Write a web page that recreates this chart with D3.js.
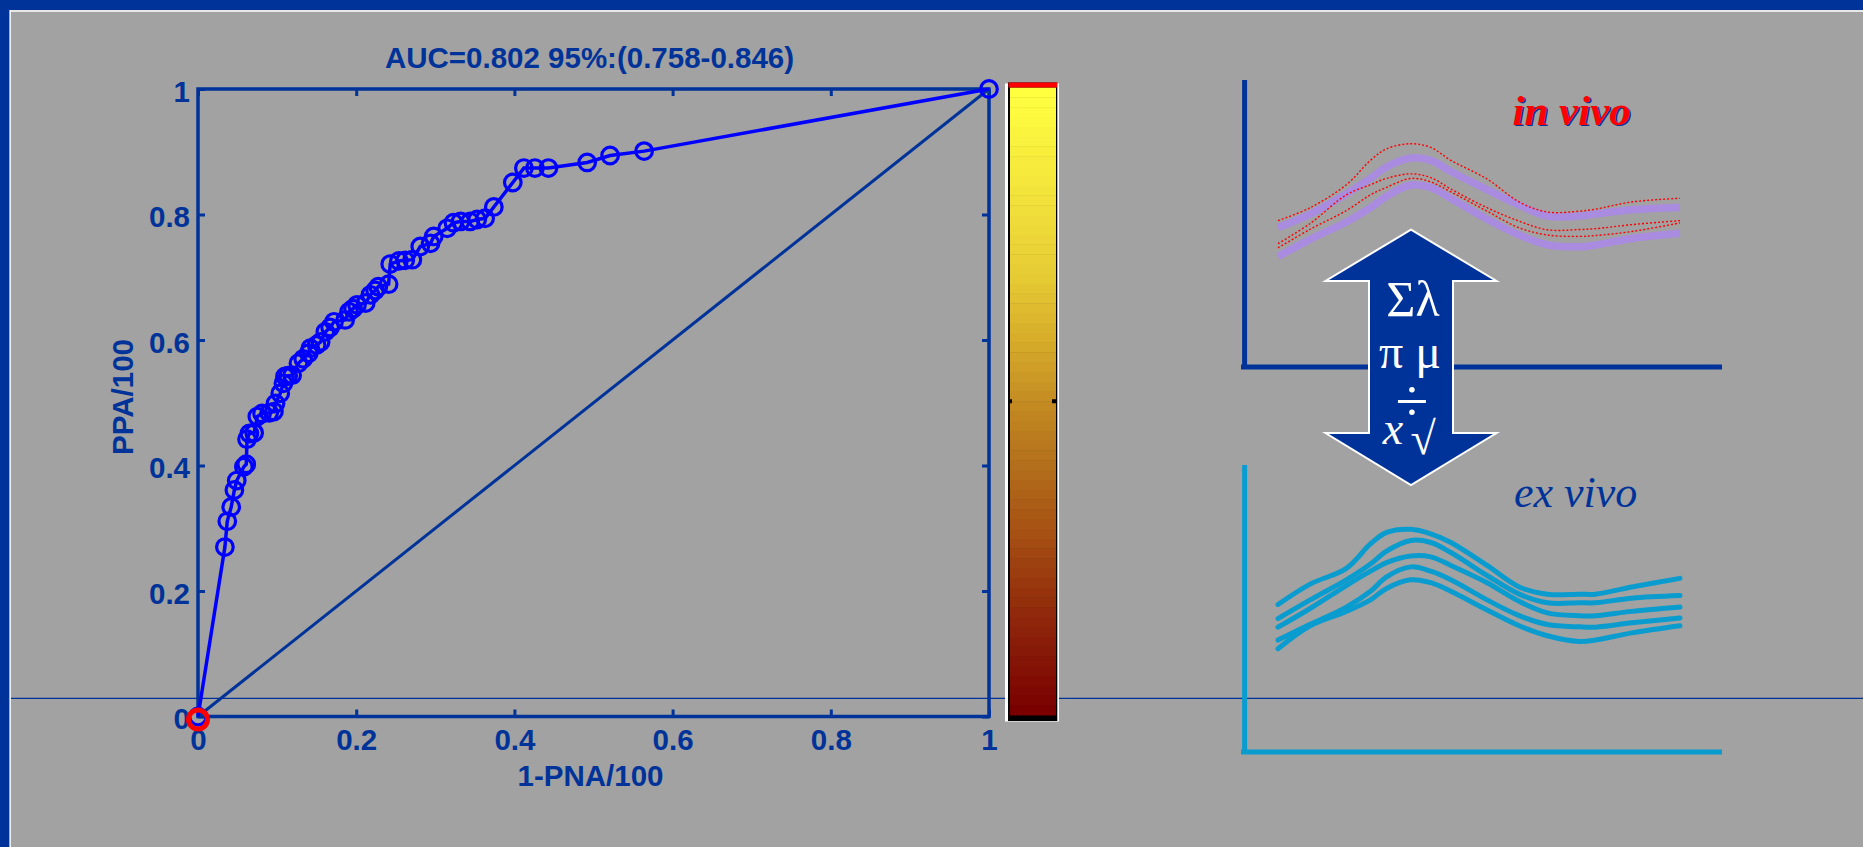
<!DOCTYPE html>
<meta charset="utf-8">

<style>
    body {
        margin: 0;
        background: #a2a2a2;
        overflow: hidden;
    }
    text {
        font-family: "Liberation Sans", Arial, sans-serif;
        font-weight: bold;
        fill: #003399;
    }
    .axis text {
        font-size: 29.5px;
    }
    .axis line {
        stroke: #003399;
        stroke-width: 3;
    }
    .axis path {
        display: none;
    }
    .serif {
        font-family: "Liberation Serif", "Times New Roman", serif;
        font-weight: normal;
    }
</style>

<body>
<script src="https://cdn.jsdelivr.net/npm/d3@7"></script>
<script>

    // ROC operating points
    var fprValues = [0, 0.034, 0.037, 0.042, 0.046, 0.049, 0.058, 0.061, 0.062, 0.065, 0.071,
        0.075, 0.081, 0.090, 0.096, 0.098, 0.104, 0.108, 0.110, 0.114, 0.119, 0.127, 0.133, 0.140,
        0.142, 0.150, 0.155, 0.161, 0.167, 0.172, 0.186, 0.191, 0.196, 0.201, 0.212, 0.218, 0.224,
        0.228, 0.241, 0.243, 0.254, 0.262, 0.271, 0.281, 0.294, 0.298, 0.315, 0.323, 0.332, 0.344,
        0.353, 0.363, 0.374, 0.398, 0.412, 0.426, 0.443, 0.492, 0.521, 0.564, 1];
    var tprValues = [0, 0.270, 0.311, 0.334, 0.361, 0.376, 0.398, 0.402, 0.442, 0.451, 0.452,
        0.478, 0.483, 0.484, 0.486, 0.499, 0.515, 0.531, 0.542, 0.543, 0.544, 0.563, 0.570, 0.579,
        0.587, 0.592, 0.597, 0.613, 0.620, 0.629, 0.632, 0.645, 0.650, 0.656, 0.659, 0.672, 0.679,
        0.685, 0.689, 0.721, 0.726, 0.727, 0.728, 0.749, 0.754, 0.765, 0.778, 0.787, 0.789, 0.789,
        0.792, 0.794, 0.812, 0.851, 0.874, 0.874, 0.874, 0.883, 0.894, 0.901, 1];

    var xTicks = [0, 0.2, 0.4, 0.6, 0.8, 1];
    var xTickLabels = ["0", "0.2", "0.4", "0.6", "0.8", "1"];
    var yTicks = [0, 0.2, 0.4, 0.6, 0.8, 1];
    var yTickLabels = ["0", "0.2", "0.4", "0.6", "0.8", "1"];
    var colorbarTicks = [0.5];

    var titleText = "AUC=0.802 95%:(0.758-0.846)";
    var xLabel = "1-PNA/100";
    var yLabel = "PPA/100";

    // spectra in the sketch on the right (x in % of width, y in % of panel height)
    var specX = [0, 8, 17, 23, 27, 33, 38, 43, 52, 60, 67, 75, 79, 88, 100];
    var inVivoBands = [
        [48.6, 53.3, 60.3, 65.7, 69.7, 72.8, 72.0, 68.1, 61.8, 56.4, 52.6, 52.6, 53.3, 54.8, 55.6],
        [38.5, 44.5, 50.5, 55.5, 59.5, 63.4, 62.6, 58.7, 51.5, 46.0, 42.6, 41.9, 42.5, 44.8, 46.6]
    ];
    var inVivoSamples = [
        [51.0, 55.5, 63.5, 72.0, 76.0, 77.8, 76.5, 72.0, 65.5, 57.5, 54.0, 54.3, 55.0, 57.5, 58.8],
        [43.0, 50.0, 60.0, 63.5, 65.7, 67.3, 66.0, 62.0, 55.5, 50.8, 47.8, 47.9, 48.2, 49.6, 51.0],
        [41.5, 48.0, 54.5, 60.0, 62.6, 65.7, 64.5, 61.0, 54.3, 48.5, 46.0, 45.5, 45.8, 47.2, 50.2]
    ];
    var exVivoSamples = [
        [51.4, 58.5, 64.0, 72.5, 76.5, 77.6, 76.0, 73.0, 65.0, 57.5, 55.0, 55.0, 55.0, 57.5, 60.5],
        [46.5, 53.0, 60.0, 65.5, 70.0, 73.7, 73.0, 69.5, 61.5, 55.0, 52.0, 52.0, 52.0, 53.6, 54.5],
        [43.5, 50.0, 58.0, 63.0, 66.0, 68.3, 68.0, 65.0, 59.0, 52.5, 48.5, 47.5, 47.5, 49.0, 50.5],
        [39.0, 44.5, 50.5, 56.0, 61.0, 64.5, 63.0, 60.0, 53.0, 47.5, 44.4, 43.6, 43.5, 45.0, 46.7],
        [36.0, 44.0, 49.0, 53.0, 57.0, 60.0, 59.0, 56.0, 49.5, 44.0, 40.5, 38.5, 39.0, 41.5, 44.0]
    ];

    var width = 1863,
        height = 847;
    var blue = "#003399";

    var svg = d3.select("body").append("svg")
        .attr("width", width)
        .attr("height", height);

    // slide background and frame
    svg.append("rect").attr("width", width).attr("height", height).attr("fill", "#a2a2a2");
    svg.append("rect").attr("width", width).attr("height", 10).attr("fill", blue);
    svg.append("rect").attr("width", 9.5).attr("height", height).attr("fill", blue);
    svg.append("line").attr("x1", 10).attr("x2", width).attr("y1", 11).attr("y2", 11)
        .attr("stroke", "#fff").attr("stroke-width", 1.5);
    svg.append("line").attr("x1", 10.2).attr("x2", 10.2).attr("y1", 10).attr("y2", height)
        .attr("stroke", "#fff").attr("stroke-width", 1.3);
    svg.append("line").attr("x1", 11).attr("x2", width).attr("y1", 698.3).attr("y2", 698.3)
        .attr("stroke", blue).attr("stroke-width", 1.3);

    // ROC plot
    var x = d3.scaleLinear().domain([0, 1]).range([198, 989]),
        y = d3.scaleLinear().domain([0, 1]).range([716.5, 89]);

    svg.append("g").attr("class", "axis")
        .attr("transform", "translate(0," + y(0) + ")")
        .call(d3.axisBottom(x).tickValues(xTicks).tickSizeInner(-7).tickSizeOuter(0).tickPadding(13)
            .tickFormat(function(d, i) { return xTickLabels[i]; }));
    svg.append("g").attr("class", "axis")
        .attr("transform", "translate(" + x(0) + ",0)")
        .call(d3.axisLeft(y).tickValues(yTicks).tickSizeInner(-7).tickSizeOuter(0).tickPadding(8)
            .tickFormat(function(d, i) { return yTickLabels[i]; }))
        .selectAll("text").attr("dy", "0.41em");
    svg.append("g").attr("class", "axis")
        .attr("transform", "translate(0," + y(1) + ")")
        .call(d3.axisTop(x).tickValues(xTicks).tickSizeInner(-7).tickSizeOuter(0).tickFormat(""));
    svg.append("g").attr("class", "axis")
        .attr("transform", "translate(" + x(1) + ",0)")
        .call(d3.axisRight(y).tickValues(yTicks).tickSizeInner(-7).tickSizeOuter(0).tickFormat(""));

    svg.append("rect")
        .attr("x", x(0)).attr("y", y(1))
        .attr("width", x(1) - x(0)).attr("height", y(0) - y(1))
        .attr("fill", "none").attr("stroke", blue).attr("stroke-width", 3.5);

    // chance diagonal
    svg.append("line")
        .attr("x1", x(0)).attr("y1", y(0)).attr("x2", x(1)).attr("y2", y(1))
        .attr("stroke", blue).attr("stroke-width", 3);

    var points = fprValues.map(function(d, i) { return {fpr: d, tpr: tprValues[i]}; });

    var line = d3.line()
        .x(function(d) { return x(d.fpr); })
        .y(function(d) { return y(d.tpr); });

    svg.append("path")
        .datum(points)
        .attr("d", line)
        .attr("fill", "none")
        .attr("stroke", "#0000ff")
        .attr("stroke-width", 3.5);

    svg.append("g").selectAll("circle")
        .data(points)
        .enter().append("circle")
        .attr("cx", function(d) { return x(d.fpr); })
        .attr("cy", function(d) { return y(d.tpr); })
        .attr("r", 8.3)
        .attr("fill", "none")
        .attr("stroke", "#0000ff")
        .attr("stroke-width", 3.2);

    // highlighted starting point
    svg.append("circle")
        .attr("cx", x(points[0].fpr)).attr("cy", y(points[0].tpr) + 3)
        .attr("r", 9.5)
        .attr("fill", "none").attr("stroke", "#ff0000").attr("stroke-width", 5);

    svg.append("text")
        .attr("x", (x(0) + x(1)) / 2 - 4).attr("y", 68)
        .attr("text-anchor", "middle")
        .style("font-size", "29.5px")
        .text(titleText);

    svg.append("text")
        .attr("x", (x(0) + x(1)) / 2 - 3).attr("y", 786)
        .attr("text-anchor", "middle")
        .style("font-size", "29.5px")
        .text(xLabel);

    svg.append("text")
        .attr("transform", "translate(133,397)rotate(-90)")
        .attr("text-anchor", "middle")
        .style("font-size", "29.5px")
        .text(yLabel);

    // colorbar
    var cbY = d3.scaleLinear().domain([0, 1]).range([715, 87.5]);
    var cbColor = d3.scaleLinear()
        .domain([0, 0.1, 0.2, 0.3, 0.4, 0.5, 0.6, 0.7, 0.85, 1])
        .range(["#7a0000", "#881a08", "#98360e", "#a85414", "#b4701c", "#c48c22",
                "#d6ac2a", "#e6ca34", "#f4e63c", "#ffff40"]);
    var nBands = 64;

    var cb = svg.append("g").attr("class", "colorbar");
    cb.append("rect")
        .attr("x", 1005).attr("y", 83.5).attr("width", 54).attr("height", 638)
        .attr("fill", "#fff");
    cb.append("rect")
        .attr("x", 1008).attr("y", 82.5).attr("width", 49.3).attr("height", 638.5)
        .attr("fill", "#000");
    cb.selectAll(".band")
        .data(d3.range(nBands))
        .enter().append("rect")
        .attr("class", "band")
        .attr("x", 1010).attr("width", 46)
        .attr("y", function(d) { return cbY((d + 1) / nBands); })
        .attr("height", function(d) { return cbY(d / nBands) - cbY((d + 1) / nBands) + 0.5; })
        .attr("fill", function(d) { return cbColor(d / (nBands - 1)); });
    cb.append("rect")
        .attr("x", 1008.5).attr("y", 82.5).attr("width", 48.5).attr("height", cbY(1) - 82.5)
        .attr("fill", "#ff0000");
    cb.selectAll(".cbtick")
        .data(colorbarTicks)
        .enter().append("g")
        .each(function(d) {
            var g = d3.select(this);
            g.append("rect").attr("x", 1008).attr("y", cbY(d) - 2).attr("width", 4).attr("height", 4).attr("fill", "#000");
            g.append("rect").attr("x", 1052).attr("y", cbY(d) - 2).attr("width", 5).attr("height", 4).attr("fill", "#000");
        });

    // sketch: in vivo / ex vivo spectra
    var sx = d3.scaleLinear().domain([0, 100]).range([1278, 1680]),
        syUp = d3.scaleLinear().domain([0, 100]).range([367, 80]),
        syLo = d3.scaleLinear().domain([0, 100]).range([752, 465]);

    var specLine = function(sy) {
        return d3.line()
            .curve(d3.curveCatmullRom.alpha(0.5))
            .x(function(d, i) { return sx(specX[i]); })
            .y(function(d) { return sy(d); });
    };

    // upper panel axes
    svg.append("path")
        .attr("d", "M1244.6,80V369.5M1241,367H1722")
        .attr("fill", "none").attr("stroke", blue).attr("stroke-width", 5);

    svg.append("g").selectAll("path")
        .data(inVivoBands)
        .enter().append("path")
        .attr("d", specLine(syUp))
        .attr("fill", "none")
        .attr("stroke", "#a98ce0")
        .attr("stroke-width", 7.5);

    svg.append("g").selectAll("path")
        .data(inVivoSamples)
        .enter().append("path")
        .attr("d", specLine(syUp))
        .attr("fill", "none")
        .attr("stroke", "#ff0000")
        .attr("stroke-width", 1.4)
        .attr("stroke-dasharray", "2,2");

    // lower panel axes
    svg.append("path")
        .attr("d", "M1244.6,465V754.5M1241,752H1722")
        .attr("fill", "none").attr("stroke", "#0a9ccf").attr("stroke-width", 5);

    svg.append("g").selectAll("path")
        .data(exVivoSamples)
        .enter().append("path")
        .attr("d", specLine(syLo))
        .attr("fill", "none")
        .attr("stroke", "#0a9ccf")
        .attr("stroke-width", 5)
        .attr("stroke-linecap", "round");

    // double arrow with math symbols
    var ax = 1411, headW = 85.5, shaftW = 42;
    var arrowPts = [
        [ax, 229.6], [ax + headW, 281], [ax + shaftW, 281], [ax + shaftW, 433], [ax + headW, 433],
        [ax, 485], [ax - headW, 433], [ax - shaftW, 433], [ax - shaftW, 281], [ax - headW, 281]
    ];
    svg.append("path")
        .attr("d", "M" + arrowPts.join("L") + "Z")
        .attr("fill", blue)
        .attr("stroke", "#fff")
        .attr("stroke-width", 2);

    // all symbols in one text block, one tspan per glyph group
    var mathText = svg.append("text").attr("class", "serif")
        .attr("text-anchor", "middle")
        .style("fill", "#fff");
    mathText.append("tspan").attr("x", ax + 2).attr("y", 316)
        .style("font-size", "50px").text("Σλ");
    mathText.append("tspan").attr("x", ax - 1).attr("y", 368)
        .style("font-size", "48px").text("π μ");
    mathText.append("tspan").attr("x", ax + 1).attr("y", 421)
        .style("font-size", "60px").text("÷");
    mathText.append("tspan").attr("x", ax - 18).attr("y", 444)
        .style("font-size", "46px").style("font-style", "italic").text("x");
    mathText.append("tspan").attr("x", ax + 12).attr("y", 454)
        .style("font-size", "46px").text("√");

    // panel captions
    svg.append("text").attr("class", "serif")
        .attr("x", 1514).attr("y", 126)
        .style("font-size", "43px").style("font-style", "italic").style("font-weight", "bold")
        .style("fill", blue)
        .text("in vivo");
    svg.append("text").attr("class", "serif")
        .attr("x", 1512.5).attr("y", 124.5)
        .style("font-size", "43px").style("font-style", "italic").style("font-weight", "bold")
        .style("fill", "#ff0000")
        .text("in vivo");
    svg.append("text").attr("class", "serif")
        .attr("x", 1514).attr("y", 507)
        .style("font-size", "44px").style("font-style", "italic")
        .style("fill", blue)
        .text("ex vivo");

</script>
</body>
